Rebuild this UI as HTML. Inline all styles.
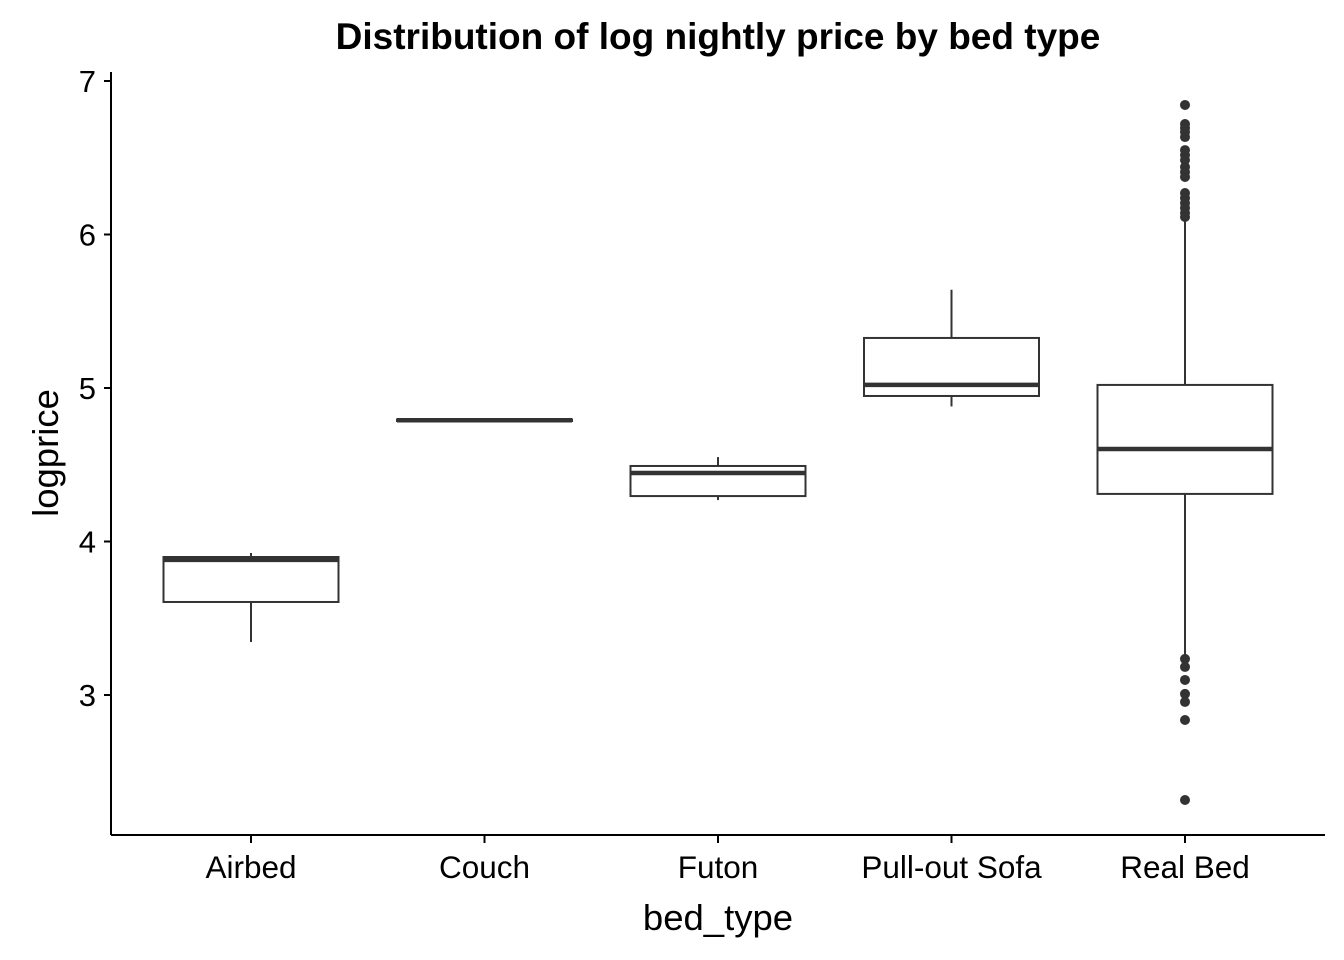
<!DOCTYPE html>
<html><head><meta charset="utf-8"><style>
html,body{margin:0;padding:0;background:#fff;width:1344px;height:960px;overflow:hidden}
text{font-family:"Liberation Sans",Arial,sans-serif}
</style></head><body>
<svg id="chart" width="1344" height="960" xmlns="http://www.w3.org/2000/svg">
<text x="718" y="49" text-anchor="middle" font-size="37" font-weight="bold">Distribution of log nightly price by bed type</text>
<g id="plot"></g>
<text x="718" y="930" text-anchor="middle" font-size="36.5">bed_type</text>
<text transform="translate(58,453) rotate(-90)" text-anchor="middle" font-size="36.5">logprice</text>
</svg>
<script>
const categories=["Airbed","Couch","Futon","Pull-out Sofa","Real Bed"];
const whiskerLow=[3.345,4.79,4.27,4.88,3.26];
const q1=[3.606,4.785,4.296,4.948,4.31];
const medians=[3.88,4.79,4.446,5.02,4.603];
const q3=[3.899,4.795,4.492,5.326,5.02];
const whiskerHigh=[3.925,4.79,4.55,5.64,6.10];
const outliersRealBed=[6.844,6.72,6.694,6.668,6.635,6.55,6.518,6.485,6.44,6.407,6.375,6.27,6.238,6.205,6.173,6.14,6.114,3.235,3.183,3.098,3.007,2.955,2.837,2.316];
const yTicks=[3,4,5,6,7];
const NS="http://www.w3.org/2000/svg";
const g=document.getElementById("plot");
const y=v=>81+(7-v)*153.5;
const x=i=>251+i*233.5;
const bw=175;
function mk(t,a){const e=document.createElementNS(NS,t);for(const k in a)e.setAttribute(k,a[k]);g.appendChild(e);return e;}
let e;
e=mk("line",{x1:111,y1:72,x2:111,y2:835,stroke:"#000","stroke-width":2});


e=mk("line",{x1:111,y1:835,x2:1325,y2:835,stroke:"#000","stroke-width":2});


yTicks.forEach(t=>{
 e=mk("line",{x1:104,y1:y(t),x2:111,y2:y(t),stroke:"#000","stroke-width":2});
 
 
 e=mk("text",{x:96,y:y(t)+11,"text-anchor":"end","font-size":31});
 e.textContent=t;
 
 
});
categories.forEach((c,i)=>{
 const cx=x(i);
 e=mk("line",{x1:cx,y1:835,x2:cx,y2:843,stroke:"#000","stroke-width":2});
 
 
 e=mk("text",{x:cx,y:878,"text-anchor":"middle","font-size":31.5});
 e.textContent=c;
 
 
 e=mk("line",{x1:cx,y1:y(whiskerHigh[i]),x2:cx,y2:y(q3[i]),stroke:"#333","stroke-width":2});
 
 
 e=mk("line",{x1:cx,y1:y(q1[i]),x2:cx,y2:y(whiskerLow[i]),stroke:"#333","stroke-width":2});
 
 
 e=mk("rect",{x:cx-bw/2,y:y(q3[i]),width:bw,height:Math.max(0.5,y(q1[i])-y(q3[i])),fill:"#fff",stroke:"#333","stroke-width":2});
 
 
 e=mk("line",{x1:cx-bw/2,y1:y(medians[i]),x2:cx+bw/2,y2:y(medians[i]),stroke:"#333","stroke-width":4.5});
 
 
});
outliersRealBed.forEach(v=>{
 e=mk("circle",{cx:x(4),cy:y(v),r:5,fill:"#333"});
 
 
});
</script>
</body></html>
